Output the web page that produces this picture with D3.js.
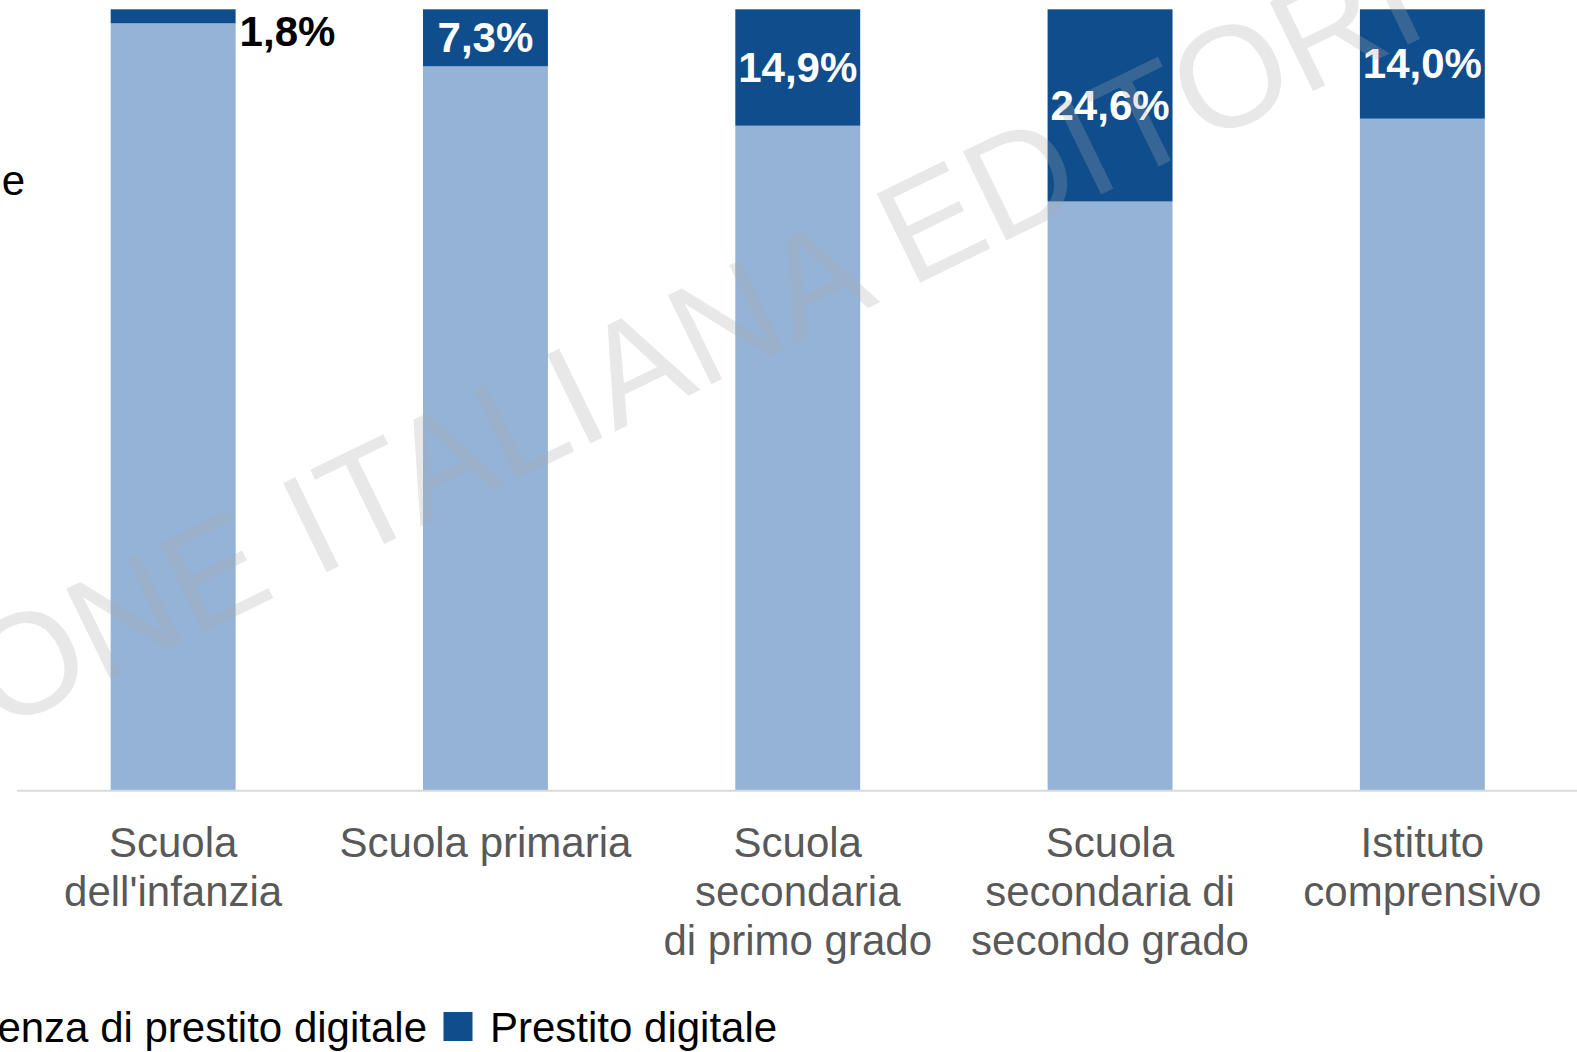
<!DOCTYPE html>
<html lang="it">
<head>
<meta charset="utf-8">
<title>Prestito digitale per tipologia di scuola</title>
<script src="https://cdn.jsdelivr.net/npm/d3@7/dist/d3.min.js"></script>
<style>
  html, body { margin: 0; padding: 0; background: #ffffff; overflow: hidden; }
  svg { display: block; font-family: "Liberation Sans", Arial, sans-serif; }
</style>
</head>
<body>
<svg id="chart" width="1577" height="1052"></svg>
<script>
// Categories (school types), label lines for the x axis
const categories = [
  "Scuola dell'infanzia",
  "Scuola primaria",
  "Scuola secondaria di primo grado",
  "Scuola secondaria di secondo grado",
  "Istituto comprensivo"
];
const categoryLines = [
  ["Scuola", "dell'infanzia"],
  ["Scuola primaria"],
  ["Scuola", "secondaria", "di primo grado"],
  ["Scuola", "secondaria di", "secondo grado"],
  ["Istituto", "comprensivo"]
];

// Series (percent of schools)
const seriesNames = ["Assenza di prestito digitale", "Prestito digitale"];
const senzaPrestito = [98.2, 92.7, 85.1, 75.4, 86.0];
const prestitoDigitale = [1.8, 7.3, 14.9, 24.6, 14.0];
const prestitoLabels = ["1,8%", "7,3%", "14,9%", "24,6%", "14,0%"];

const colors = ["#95B3D7", "#0F4D8C"];

const svg = d3.select("#chart");
const W = 1577, H = 1052;

const rows = categories.map((c, i) => ({
  cat: c,
  senza: senzaPrestito[i],
  prestito: prestitoDigitale[i]
}));

const x = d3.scaleBand()
  .domain(categories)
  .range([17, 1578.5])
  .paddingInner(0.6)
  .paddingOuter(0.3);

const y = d3.scaleLinear().domain([0, 100]).range([790.7, 9.3]);

const stack = d3.stack().keys(["senza", "prestito"]);
const stacked = stack(rows);

// Stacked bars
const gBars = svg.append("g");
gBars.selectAll("g.series")
  .data(stacked)
  .join("g")
  .attr("class", "series")
  .attr("fill", (d, i) => colors[i])
  .selectAll("rect")
  .data(d => d)
  .join("rect")
  .attr("x", d => x(d.data.cat))
  .attr("width", x.bandwidth())
  .attr("y", d => y(d[1]))
  .attr("height", d => y(d[0]) - y(d[1]));

// Baseline axis
const xAxis = d3.axisBottom(x).tickSize(0).tickFormat("");
const gAxis = svg.append("g")
  .attr("transform", `translate(0,${y(0)})`)
  .call(xAxis);
gAxis.select(".domain").attr("stroke", "#D9D9D9").attr("stroke-width", 2)
  .attr("d", `M17,0H${W}`);

// Category labels
const gLabels = svg.append("g");
categories.forEach((c, i) => {
  const t = gLabels.append("text")
    .attr("x", x(c) + x.bandwidth() / 2)
    .attr("y", 857)
    .attr("text-anchor", "middle")
    .attr("fill", "#595959")
    .attr("font-size", 42);
  categoryLines[i].forEach((line, j) => {
    t.append("tspan")
      .attr("x", x(c) + x.bandwidth() / 2)
      .attr("dy", j === 0 ? 0 : 49)
      .text(line);
  });
});

// Value labels for the digital-lending segment
const prestitoSeries = stacked[1];
svg.append("g").selectAll("text")
  .data(prestitoSeries)
  .join("text")
  .attr("font-size", 42)
  .attr("font-weight", "bold")
  .attr("dominant-baseline", "central")
  .each(function (d, i) {
    const segH = y(d[0]) - y(d[1]);
    const sel = d3.select(this).text(prestitoLabels[i]);
    if (segH < 40) {
      sel.attr("x", x(d.data.cat) + x.bandwidth() + 4)
        .attr("y", 31)
        .attr("text-anchor", "start")
        .attr("fill", "#000000");
    } else {
      sel.attr("x", x(d.data.cat) + x.bandwidth() / 2)
        .attr("y", (y(d[0]) + y(d[1])) / 2)
        .attr("text-anchor", "middle")
        .attr("fill", "#FFFFFF");
    }
  });

// Left-side text fragment
svg.append("text")
  .attr("x", 25)
  .attr("y", 195)
  .attr("text-anchor", "end")
  .attr("font-size", 42)
  .attr("fill", "#000000")
  .text("e");

// Legend
const legend = svg.append("g");
const sw = 29;
const legendBaseline = 1042;
// second item
legend.append("rect")
  .attr("x", 443.5).attr("y", legendBaseline - 30)
  .attr("width", sw).attr("height", sw)
  .attr("fill", colors[1]);
legend.append("text")
  .attr("x", 490).attr("y", legendBaseline)
  .attr("font-size", 42).attr("fill", "#000000")
  .text(seriesNames[1]);
// first item, right-aligned before the second
const first = legend.append("text")
  .attr("x", 427).attr("y", legendBaseline)
  .attr("text-anchor", "end")
  .attr("font-size", 42).attr("fill", "#000000")
  .text(seriesNames[0]);
const fw = first.node().getComputedTextLength();
legend.append("rect")
  .attr("x", 427 - fw - 17 - sw).attr("y", legendBaseline - 30)
  .attr("width", sw).attr("height", sw)
  .attr("fill", colors[0]);

// Watermark
svg.append("text")
  .attr("transform", "translate(1432,33) rotate(-26)")
  .attr("text-anchor", "end")
  .attr("font-size", 144)
  .attr("fill", "#AAAAAA")
  .attr("fill-opacity", 0.27)
  .text("ASSOCIAZIONE ITALIANA EDITORI");
</script>
</body>
</html>
